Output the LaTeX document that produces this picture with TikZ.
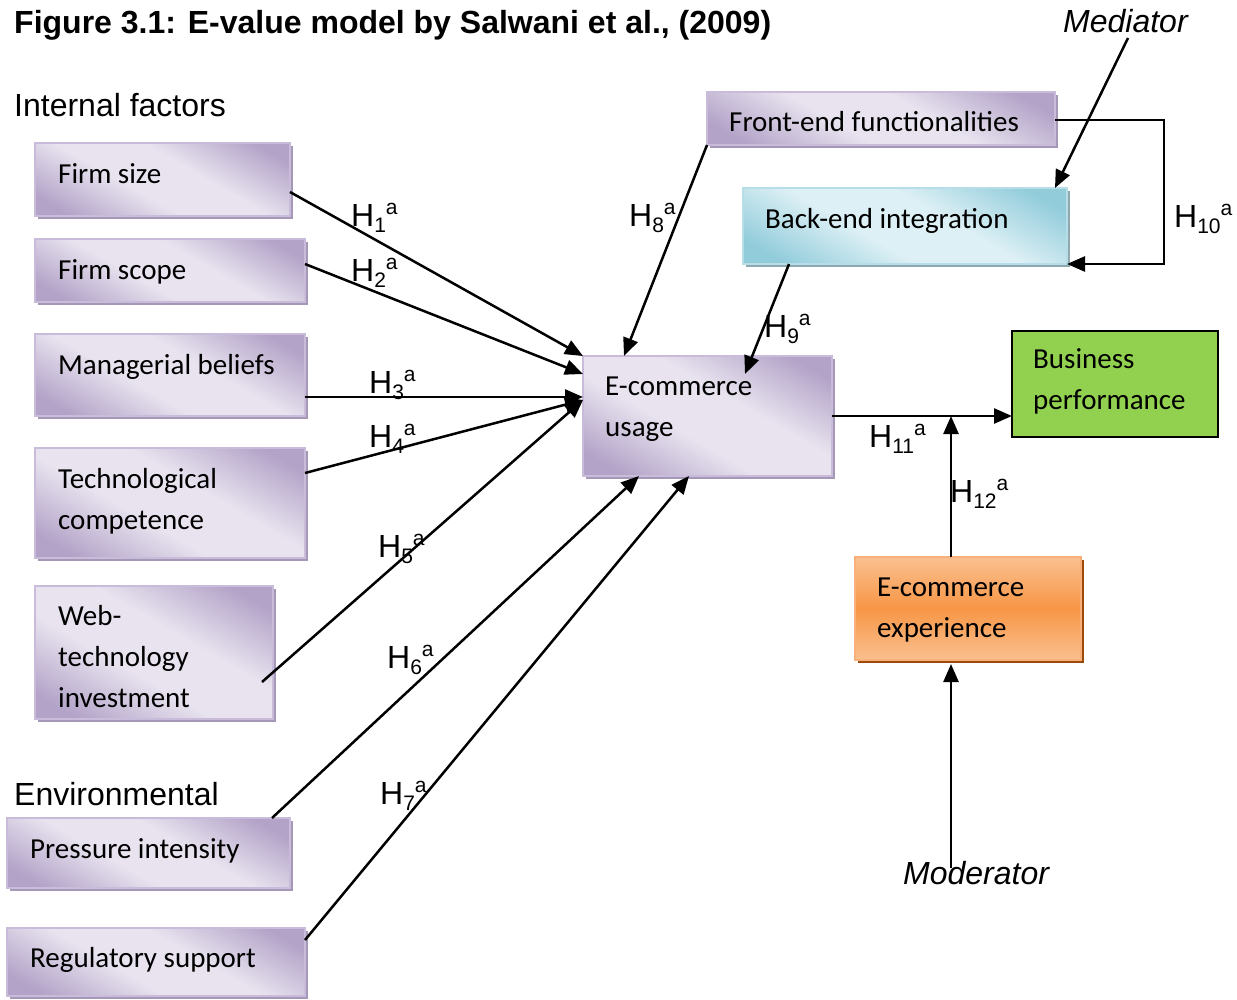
\documentclass[tikz,border=0pt]{standalone}
\usepackage{fontspec}
\setmainfont{Liberation Sans}
\newfontfamily\boxfont{Carlito}
\usetikzlibrary{arrows.meta,shadows}
\definecolor{pdark}{HTML}{B3A3C8}
\definecolor{plight}{HTML}{E8E3EF}
\definecolor{pborder}{HTML}{C9BCDB}
\definecolor{pshadow}{HTML}{A597B6}
\definecolor{bdark}{HTML}{92CCDB}
\definecolor{blight}{HTML}{DDF0F5}
\definecolor{bborder}{HTML}{B7DEE8}
\definecolor{bshadow}{HTML}{8FA8AF}
\definecolor{odark}{HTML}{F79646}
\definecolor{olight}{HTML}{FAC08F}
\definecolor{oborder}{HTML}{F9B07A}
\definecolor{oshadow}{HTML}{9A4A0B}
\definecolor{ggreen}{HTML}{92D050}
\pgfdeclareverticalshading{pshade}{100bp}{color(0bp)=(pdark); color(22bp)=(pdark); color(42bp)=(plight); color(58bp)=(plight); color(78bp)=(pdark); color(100bp)=(pdark)}
\pgfdeclareverticalshading{bshade}{100bp}{color(0bp)=(bdark); color(22bp)=(bdark); color(42bp)=(blight); color(58bp)=(blight); color(78bp)=(bdark); color(100bp)=(bdark)}
\newcommand\hlab[1]{H{\fontsize{21}{21}\selectfont\raisebox{-6pt}{#1}\raisebox{12pt}{a}}}
\begin{document}
\begin{tikzpicture}[x=1pt,y=-1pt,
  box/.style={rectangle, inner sep=0pt, outer sep=0pt, anchor=north west, line width=1.3pt},
  pbox/.style={box, draw=pborder, shade, shading=pshade, shading angle=-30,
    drop shadow={shadow xshift=3pt, shadow yshift=-3pt, fill=pshadow, opacity=1, draw=none}},
  bbox/.style={box, draw=bborder, shade, shading=bshade, shading angle=-30,
    drop shadow={shadow xshift=3pt, shadow yshift=-3pt, fill=bshadow, opacity=1, draw=none}},
  obox/.style={box, draw=oborder, top color=olight, bottom color=olight, middle color=odark,
    drop shadow={shadow xshift=3pt, shadow yshift=-3pt, fill=oshadow, opacity=1, draw=none}},
  gbox/.style={box, draw=black, fill=ggreen, line width=1.8pt},
  btxt/.style={anchor=base west, inner sep=0pt, align=left, font=\boxfont\fontsize{29}{41}\selectfont},
  lab/.style={anchor=base west, inner sep=0pt, font=\fontsize{32}{38}\selectfont},
  conn/.style={line width=2.5pt, -{Triangle[length=18pt,width=15pt]}},
  plain/.style={line width=2.5pt}]
\useasboundingbox (0,0) rectangle (1237,999);

% title and headings
\node[lab, font=\bfseries\fontsize{32}{38}\selectfont] (title) at (14,33) {Figure 3.1: E-value model by Salwani et al., (2009)};
\node[lab] (internal) at (14,116) {Internal factors};
\node[lab] (env) at (14,805) {Environmental};
\node[lab, font=\itshape\fontsize{32}{38}\selectfont] (mediator) at (1063,32) {Mediator};
\node[lab, font=\itshape\fontsize{32}{38}\selectfont] (moderator) at (903,884) {Moderator};

% boxes
\node[pbox, minimum width=255pt, minimum height=73pt] (fs) at (35,143) {};
\node[pbox, minimum width=270pt, minimum height=63pt] (fsc) at (35,239) {};
\node[pbox, minimum width=270pt, minimum height=82pt] (mb) at (35,334) {};
\node[pbox, minimum width=270pt, minimum height=110pt] (tc) at (35,448) {};
\node[pbox, minimum width=238pt, minimum height=133pt] (wti) at (35,586) {};
\node[pbox, minimum width=283pt, minimum height=70pt] (pi) at (7,818) {};
\node[pbox, minimum width=298pt, minimum height=68pt] (rs) at (7,928) {};
\node[pbox, minimum width=249pt, minimum height=120pt] (ecu) at (583,356) {};
\node[pbox, minimum width=348pt, minimum height=53pt] (fef) at (707,92) {};
\node[bbox, minimum width=324pt, minimum height=76pt] (bei) at (743,188) {};
\node[gbox, minimum width=206pt, minimum height=106pt] (bp) at (1012,331) {};
\node[obox, minimum width=226pt, minimum height=103pt] (ece) at (855,557) {};

% box texts (base anchor = last line)
\node[btxt] (t-fs) at (58,183) {Firm size};
\node[btxt] (t-fsc) at (58,279) {Firm scope};
\node[btxt] (t-mb) at (58,374) {Managerial beliefs};
\node[btxt] (t-tc) at (58,529) {Technological\\competence};
\node[btxt] (t-wti) at (58,707) {Web-\\technology\\investment};
\node[btxt] (t-pi) at (30,858) {Pressure intensity};
\node[btxt] (t-rs) at (30,967) {Regulatory support};
\node[btxt] (t-ecu) at (605,436) {E-commerce\\usage};
\node[btxt] (t-fef) at (729,131) {Front-end functionalities};
\node[btxt] (t-bei) at (765,228) {Back-end integration};
\node[btxt] (t-bp) at (1033,409) {Business\\performance};
\node[btxt] (t-ece) at (877,637) {E-commerce\\experience};

% free ends
\coordinate (h5s) at (262,682);
\coordinate (h9e) at (745,374);
\coordinate (meds) at (1128,38);
\coordinate (mods) at (951,868);
\coordinate (h10c) at (1164,0);
\coordinate (junc) at (951,416);

% connectors
\draw[conn] (fs.east |- 0,192) -- (ecu.north west);
\draw[conn] (fsc.east |- 0,264) -- (ecu.west |- 0,374);
\draw[conn] (mb.east |- 0,397) -- (ecu.west |- 0,397);
\draw[conn] (tc.east |- 0,473) -- (ecu.west |- 0,400);
\draw[conn] (h5s) -- (ecu.west |- 0,400);
\draw[conn] (272,0 |- pi.north) -- (639,0 |- ecu.south);
\draw[conn] (rs.east |- 0,940) -- (689,0 |- ecu.south);
\draw[conn] (fef.south west) -- (624,0 |- ecu.north);
\draw[conn] (789,0 |- bei.south) -- (h9e);
\draw[conn] (fef.east |- 0,120) -- (h10c |- 0,120) -- (h10c |- bei.south) -- (bei.south east);
\draw[conn] (meds) -- (1055,0 |- bei.north);
\draw[conn] (ecu.east |- junc) -- (bp.west |- junc);
\draw[conn] (951,0 |- ece.north) -- (junc);
\draw[conn] (mods) -- (951,664);

% hypothesis labels
\node[lab] (h1) at (351,226) {\hlab{1}};
\node[lab] (h2) at (351,281) {\hlab{2}};
\node[lab] (h3) at (369,393) {\hlab{3}};
\node[lab] (h4) at (369,447) {\hlab{4}};
\node[lab] (h5) at (378,557) {\hlab{5}};
\node[lab] (h6) at (387,668) {\hlab{6}};
\node[lab] (h7) at (380,804) {\hlab{7}};
\node[lab] (h8) at (629,226) {\hlab{8}};
\node[lab] (h9) at (764,337) {\hlab{9}};
\node[lab] (h10) at (1174,227) {\hlab{10}};
\node[lab] (h11) at (869,447) {\hlab{11}};
\node[lab] (h12) at (950,502) {\hlab{12}};
\end{tikzpicture}
\end{document}
